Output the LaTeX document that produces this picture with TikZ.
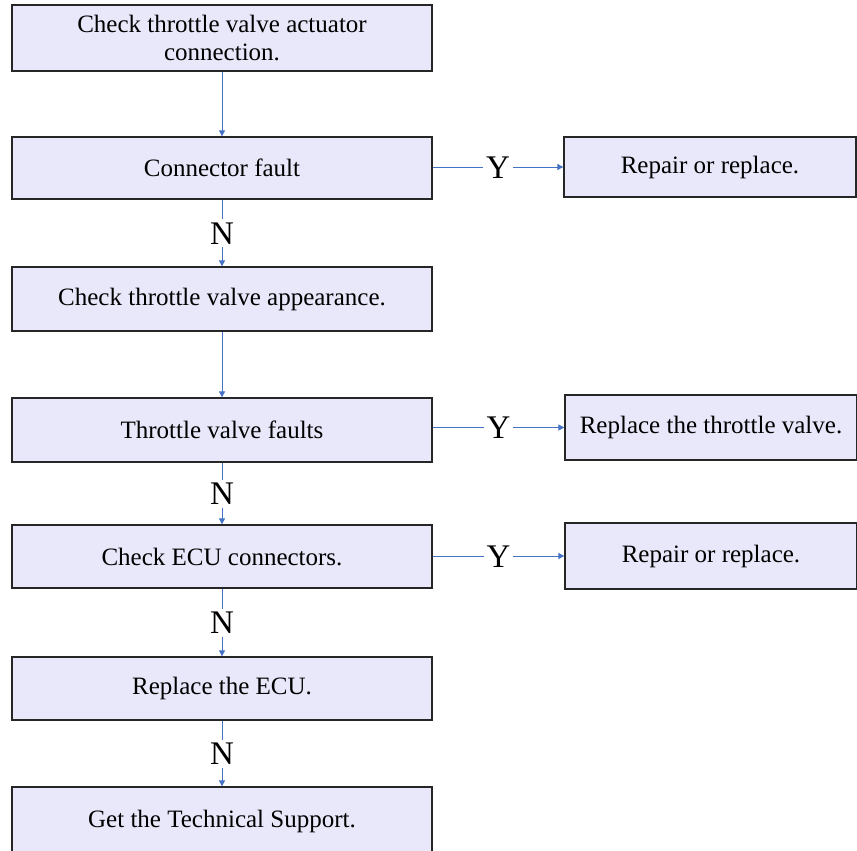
\documentclass[tikz,border=0pt]{standalone}
\usepackage{fontspec}
\setmainfont{Liberation Serif}
\usepackage{tikz}
\usetikzlibrary{arrows.meta}
\usetikzlibrary{positioning}
\definecolor{boxfill}{RGB}{232,232,250}
\definecolor{flowblue}{RGB}{68,114,196}
\tikzset{
step box/.style = { rectangle, draw = black!85, line width = 1.3pt, fill = boxfill, minimum width = 420pt, minimum height = 63pt, align = center, font = \fontsize{25}{28}\selectfont },
action box/.style = { rectangle, draw = black!85, line width = 1.3pt, fill = boxfill, minimum width = 292pt, minimum height = 63pt, align = center, font = \fontsize{25}{28}\selectfont },
flow/.style = { draw = flowblue, line width = 0.9pt, -{Triangle[length = 6pt, width = 6pt]} },
answer/.style = { fill = white, inner sep = 3pt, text height = 22pt, text depth = 0pt, font = \fontsize{33}{33}\selectfont },
}

\begin{document}
\begin{tikzpicture}[x = 1pt, y = -1pt]
    \useasboundingbox (0, 0) rectangle (857, 851);
    \clip (0, 0) rectangle (857, 851);
    % main column
    \node[step box, minimum height = 66pt] (actuator) at (222, 38) {Check throttle valve actuator\\connection.};
    \node[step box, minimum height = 62pt] (connfault) at (222, 168) {Connector fault};
    \node[step box, minimum height = 64pt] (appearance) at (222, 299) {Check throttle valve appearance.};
    \node[step box, minimum height = 64pt] (valvefault) at (222, 430) {Throttle valve faults};
    \node[step box] (ecuconn) at (222, 556.5) {Check ECU connectors.};
    \node[step box] (ecu) at (222, 688.5) {Replace the ECU.};
    \node[step box, minimum height = 68pt] (support) at (222, 821) {Get the Technical Support.};
    % right column
    \node[action box, minimum height = 60pt] (repair1) at (710, 167) {Repair or replace.};
    \node[action box, minimum height = 65pt] (replvalve) at (711, 427.5) {Replace the throttle valve.};
    \node[action box, minimum height = 66pt] (repair2) at (711, 556) {Repair or replace.};
    % connectors
    \draw[flow] (actuator) -- (connfault);
    \draw[flow] (connfault) -- node[answer] {N} (appearance);
    \draw[flow] (appearance) -- (valvefault);
    \draw[flow] (valvefault) -- node[answer] {N} (ecuconn);
    \draw[flow] (ecuconn) -- node[answer] {N} (ecu);
    \draw[flow] (ecu) -- node[answer] {N} (support);
    \draw[flow] (connfault.east |- repair1) -- node[answer] {Y} (repair1);
    \draw[flow] (valvefault.east |- replvalve) -- node[answer] {Y} (replvalve);
    \draw[flow] (ecuconn.east |- repair2) -- node[answer] {Y} (repair2);
\end{tikzpicture}
\end{document}
